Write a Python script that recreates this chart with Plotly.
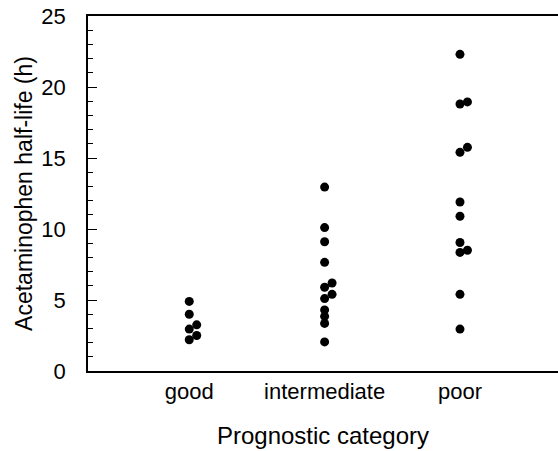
import plotly.graph_objects as go

categories = ["good", "intermediate", "poor"]
good_values = [4.9, 4.0, 3.25, 2.95, 2.5, 2.2]
good_side = [0, 0, 1, 0, 1, 0]
intermediate_values = [12.95, 10.1, 9.1, 7.65, 6.2, 5.9, 5.4, 5.1, 4.3, 3.85, 3.35, 2.05]
intermediate_side = [0, 0, 0, 0, 1, 0, 1, 0, 0, 0, 0, 0]
poor_values = [22.3, 18.95, 18.8, 15.75, 15.4, 11.9, 10.9, 9.05, 8.5, 8.35, 5.4, 2.95]
poor_side = [0, 1, 0, 1, 0, 0, 0, 0, 1, 0, 0, 0]

groups = [(good_values, good_side), (intermediate_values, intermediate_side), (poor_values, poor_side)]
OFFSET = 0.055

xs, ys = [], []
for i, (vals, sides) in enumerate(groups):
    for v, s in zip(vals, sides):
        xs.append(i + s * OFFSET)
        ys.append(v)

FONT = "Liberation Sans, Arial, sans-serif"

fig = go.Figure()
fig.add_trace(go.Scatter(
    x=xs, y=ys, mode="markers",
    marker=dict(color="black", size=9, line=dict(width=0)),
    showlegend=False, hoverinfo="y",
))

fig.update_layout(
    width=558, height=451,
    margin=dict(l=88, r=0, t=16, b=80),
    paper_bgcolor="white", plot_bgcolor="white",
    font=dict(family=FONT, color="black"),
)
fig.update_xaxes(
    range=[-0.748, 2.724],
    tickmode="array", tickvals=[0, 1, 2], ticktext=categories,
    showgrid=False, zeroline=False,
    showline=True, linecolor="black", linewidth=1.5, mirror=True,
    ticks="", tickfont=dict(size=22, family=FONT, color="black"),
    title=dict(text="Prognostic category", font=dict(size=24, family=FONT, color="black"), standoff=24),
)
fig.update_yaxes(
    range=[0, 25],
    tickmode="linear", tick0=0, dtick=5,
    showgrid=False, zeroline=False,
    showline=True, linecolor="black", linewidth=1.5, mirror=False,
    ticks="inside", ticklen=9, tickwidth=1.2, tickcolor="black",
    minor=dict(ticks="inside", ticklen=5, dtick=1, tickwidth=1, tickcolor="black", showgrid=False),
    ticklabelstandoff=16,
    tickfont=dict(size=22, family=FONT, color="black"),
    title=dict(text="Acetaminophen half-life (h)", font=dict(size=23, family=FONT, color="black"), standoff=2),
)

fig.write_html("out.html")
